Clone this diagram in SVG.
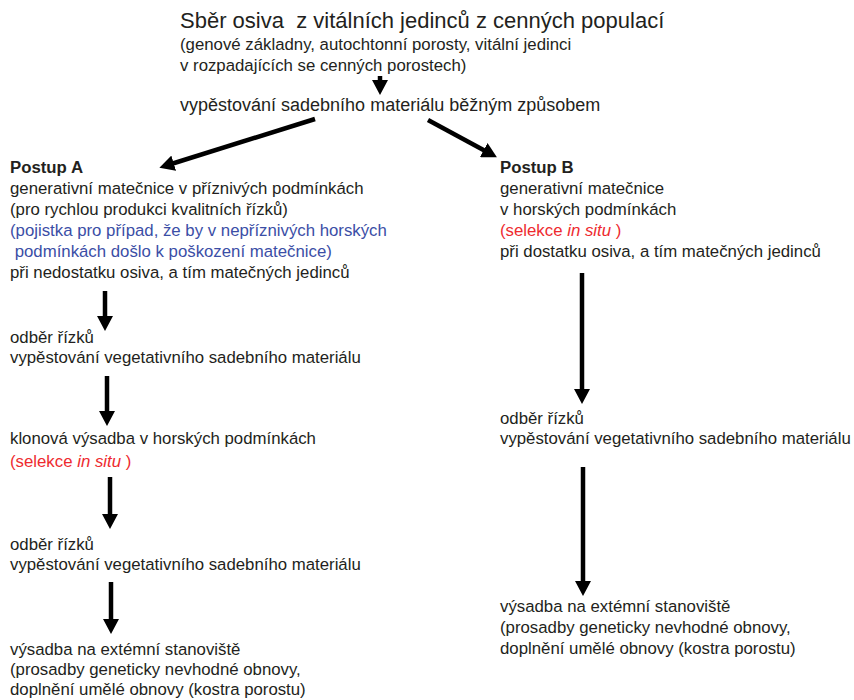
<svg xmlns="http://www.w3.org/2000/svg" width="854" height="700" viewBox="0 0 854 700">
<defs>
<marker id="ah" markerUnits="userSpaceOnUse" markerWidth="15" markerHeight="16" refX="6" refY="8" orient="auto" viewBox="0 0 15 16">
<path d="M0,0 L15,8 L0,16 z" fill="#000"/>
</marker>
<style>
text{font-family:"Liberation Sans",Arial,sans-serif;font-size:16.8px;fill:#231f20;white-space:pre}
.t{font-size:22px}
.m{font-size:18px}
.b{font-weight:bold}
.blue{fill:#3b4ea6}
.red{fill:#ee2a2f}
.i{font-style:italic}
.arr{stroke:#000;stroke-width:4.5;fill:none;marker-end:url(#ah)}
</style>
</defs>
<rect width="854" height="700" fill="#fff"/>
<g id="top">
<text class="t" x="180" y="28" xml:space="preserve">Sběr osiva  z vitálních jedinců z cenných populací</text>
<text x="180" y="50">(genové základny, autochtonní porosty, vitální jedinci</text>
<text x="180" y="71">v rozpadajících se cenných porostech)</text>
</g>
<g id="common">
<text class="m" x="180" y="111">vypěstování sadebního materiálu běžným způsobem</text>
</g>
<g id="postupA">
<text class="b" x="10" y="173">Postup A</text>
<text x="10" y="194">generativní matečnice v příznivých podmínkách</text>
<text x="10" y="215">(pro rychlou produkci kvalitních řízků)</text>
<text class="blue" x="10" y="236">(pojistka pro případ, že by v nepříznivých horských</text>
<text class="blue" x="10" y="257" xml:space="preserve"> podmínkách došlo k poškození matečnice)</text>
<text x="10" y="278">při nedostatku osiva, a tím matečných jedinců</text>
</g>
<g id="A1">
<text x="10" y="343">odběr řízků</text>
<text x="10" y="363">vypěstování vegetativního sadebního materiálu</text>
</g>
<g id="A2">
<text x="10" y="444">klonová výsadba v horských podmínkách</text>
<text class="red" x="10" y="467" xml:space="preserve">(selekce <tspan class="i">in situ</tspan> )</text>
</g>
<g id="A3">
<text x="10" y="550">odběr řízků</text>
<text x="10" y="570">vypěstování vegetativního sadebního materiálu</text>
</g>
<g id="A4">
<text x="10" y="655">výsadba na extémní stanoviště</text>
<text x="10" y="675">(prosadby geneticky nevhodné obnovy,</text>
<text x="10" y="695">doplnění umělé obnovy (kostra porostu)</text>
</g>
<g id="postupB">
<text class="b" x="500" y="173">Postup B</text>
<text x="500" y="194">generativní matečnice</text>
<text x="500" y="215">v horských podmínkách</text>
<text class="red" x="500" y="236" xml:space="preserve">(selekce <tspan class="i">in situ</tspan> )</text>
<text x="500" y="257">při dostatku osiva, a tím matečných jedinců</text>
</g>
<g id="B1">
<text x="500" y="424">odběr řízků</text>
<text x="500" y="444">vypěstování vegetativního sadebního materiálu</text>
</g>
<g id="B2">
<text x="500" y="612">výsadba na extémní stanoviště</text>
<text x="500" y="633">(prosadby geneticky nevhodné obnovy,</text>
<text x="500" y="654">doplnění umělé obnovy (kostra porostu)</text>
</g>
<g id="connectors">
<line class="arr" x1="380" y1="76" x2="380" y2="86"/>
<line class="arr" x1="315" y1="119" x2="168" y2="165"/>
<line class="arr" x1="428" y1="120" x2="489" y2="153"/>
<line class="arr" x1="105" y1="291" x2="105" y2="322"/>
<line class="arr" x1="107" y1="376" x2="107" y2="417"/>
<line class="arr" x1="110" y1="477" x2="110" y2="520"/>
<line class="arr" x1="111" y1="582" x2="111" y2="625"/>
<line class="arr" x1="582" y1="273" x2="582" y2="395"/>
<line class="arr" x1="583" y1="467" x2="583" y2="587"/>
</g>
</svg>
